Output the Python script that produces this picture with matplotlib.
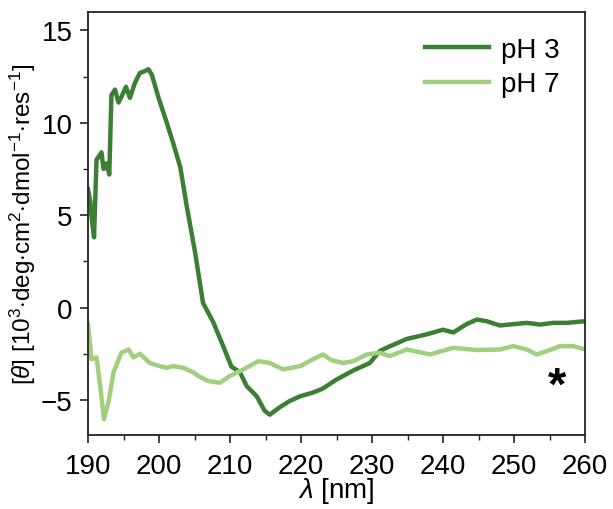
import matplotlib
matplotlib.use("Agg")
import matplotlib.pyplot as plt
from matplotlib.ticker import MultipleLocator

plt.rcParams['font.family'] = ['Liberation Sans', 'DejaVu Sans']
plt.rcParams['mathtext.fontset'] = 'custom'
plt.rcParams['mathtext.rm'] = 'Liberation Sans'
plt.rcParams['mathtext.it'] = 'Liberation Sans:italic'

# pH 3 data
wl_ph3 = [190.0, 190.3, 190.5, 190.85, 191.2, 191.9, 192.2, 192.6, 193.0, 193.3, 193.8,
          194.3, 194.7, 195.35, 195.9, 196.6, 197.3, 198.0, 198.5, 199.0, 199.9,
          201.1, 202.0, 203.0, 203.9, 205.1, 206.2, 207.65, 209.05, 210.2, 211.4,
          212.35, 213.75, 214.9, 215.6, 217.0, 218.45, 219.9, 221.7, 223.0, 225.0,
          227.4, 229.7, 231.1, 232.5, 234.9, 237.7, 240.0, 241.45, 243.3, 244.75,
          246.15, 248.0, 249.9, 251.8, 253.7, 255.5, 257.4, 260.0]
th_ph3 = [6.4, 5.8, 4.9, 3.8, 8.0, 8.4, 7.5, 7.8, 7.2, 11.5, 11.8,
          11.1, 11.4, 11.95, 11.35, 12.15, 12.7, 12.8, 12.9, 12.6, 11.4,
          10.0, 8.9, 7.6, 5.5, 2.95, 0.25, -0.8, -2.1, -3.2, -3.5,
          -4.25, -4.8, -5.6, -5.8, -5.4, -5.05, -4.8, -4.6, -4.4, -3.9,
          -3.4, -3.0, -2.35, -2.1, -1.7, -1.45, -1.2, -1.35, -0.9, -0.65,
          -0.74, -0.97, -0.9, -0.83, -0.92, -0.83, -0.83, -0.74]

# pH 7 data
wl_ph7 = [190.0, 190.5, 191.2, 191.7, 192.25, 192.9, 193.6, 194.7, 195.7, 196.4,
          197.3, 198.7, 200.1, 201.1, 202.0, 203.4, 204.8, 205.5, 206.9, 208.6,
          210.0, 211.9, 214.0, 215.6, 217.5, 219.9, 221.7, 223.1, 224.3, 225.95,
          227.4, 229.25, 231.1, 232.5, 234.9, 238.2, 241.45, 244.75, 248.0, 249.9,
          251.8, 253.2, 254.6, 256.5, 258.35, 260.0]
th_ph7 = [-0.9, -2.8, -2.7, -4.2, -6.05, -5.1, -3.5, -2.45, -2.27, -2.7,
          -2.5, -3.0, -3.17, -3.26, -3.17, -3.26, -3.5, -3.7, -3.98, -4.07,
          -3.7, -3.35, -2.9, -3.0, -3.35, -3.17, -2.8, -2.54, -2.85, -3.0,
          -2.9, -2.54, -2.45, -2.63, -2.27, -2.54, -2.18, -2.3, -2.27, -2.09,
          -2.27, -2.54, -2.36, -2.09, -2.09, -2.27]

labels = ['pH 3', 'pH 7']
colors = ['#3b7f33', '#a2cf7e']

fig = plt.figure(figsize=(6.13, 5.10), dpi=100)
ax = fig.add_axes([88/613, 1-436/510, (585-88)/613, (436-13)/510])

ax.plot(wl_ph3, th_ph3, color=colors[0], lw=3.2, label=labels[0], solid_joinstyle='round')
ax.plot(wl_ph7, th_ph7, color=colors[1], lw=3.2, label=labels[1], solid_joinstyle='round')

ax.set_xlim(190, 260)
ax.set_ylim(-6.9, 16)
ax.xaxis.set_major_locator(MultipleLocator(10))
ax.xaxis.set_minor_locator(MultipleLocator(5))
ax.yaxis.set_major_locator(MultipleLocator(5))
ax.yaxis.set_minor_locator(MultipleLocator(2.5))
ax.tick_params(which='major', length=6, width=1.2, labelsize=20,
               colors='#222222', labelcolor='black')
ax.tick_params(axis='x', which='major', pad=7)
ax.tick_params(axis='y', which='major', pad=5)
ax.tick_params(which='minor', length=3.5, width=1.0, colors='#222222')
for s in ax.spines.values():
    s.set_linewidth(1.3)
    s.set_color('#222222')

ax.set_xlabel(r'$\lambda$ [nm]', fontsize=20, labelpad=-3)
ax.set_ylabel(r'[$\theta$] [10$^3$$\cdot$deg$\cdot$cm$^2$$\cdot$dmol$^{-1}$$\cdot$res$^{-1}$]',
              fontsize=17.5, labelpad=2)

ax.text(256.0, -4.3, '*', fontsize=34, fontweight='bold', ha='center', va='center')

ax.legend(loc='upper right', frameon=False, fontsize=20, handlelength=2.3,
          handletextpad=0.45, labelspacing=0.3, borderaxespad=0.5)

fig.savefig('out.png', dpi=100)
